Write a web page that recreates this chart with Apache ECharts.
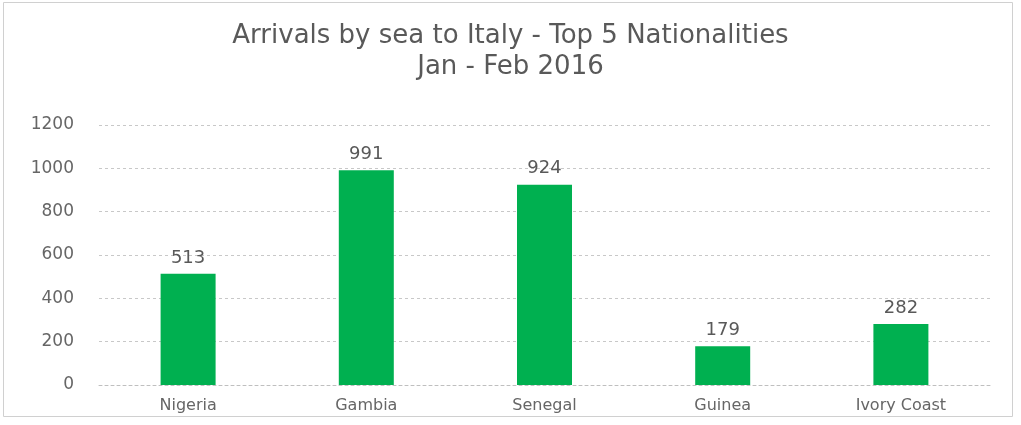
<!DOCTYPE html>
<html>
<head>
<meta charset="utf-8">
<script src="https://cdn.jsdelivr.net/npm/echarts@6/dist/echarts.min.js"></script>
<style>
  html, body { margin: 0; padding: 0; background: #fff; }
  #chart { width: 1021px; height: 425px; }
</style>
</head>
<body>
<div id="chart"></div>
<script>
const nationalities = ['Nigeria', 'Gambia', 'Senegal', 'Guinea', 'Ivory Coast']
const arrivals = [513, 991, 924, 179, 282]
const titleLines = ['Arrivals by sea to Italy - Top 5 Nationalities', 'Jan - Feb 2016']

const FONT = 'DejaVu Sans'
const chart = echarts.init(document.getElementById('chart'))

const option = {
  backgroundColor: '#fff',
  animation: false,
  textStyle: { fontFamily: FONT },
  title: {
    text: titleLines.join('\n'),
    left: 'center',
    top: 16,
    textStyle: {
      color: '#595959',
      fontSize: 26,
      fontWeight: 'normal',
      lineHeight: 31,
      fontFamily: FONT,
    },
  },
  graphic: [
    {
      type: 'rect',
      shape: { x: 3.5, y: 2.5, width: 1009, height: 414 },
      style: { fill: 'none', stroke: '#d0d0d0', lineWidth: 1 },
      silent: true,
    },
  ],
  grid: {
    top: 125,
    bottom: 40,
    left: 99,
    right: 31,
  },
  xAxis: {
    type: 'category',
    data: nationalities,
    axisLine: { show: true, lineStyle: { color: '#bfbfbf', type: [3, 3] } },
    axisTick: { show: false },
    axisLabel: { color: '#666', fontSize: 16, margin: 13, fontFamily: FONT },
  },
  yAxis: {
    type: 'value',
    min: 0,
    max: 1200,
    interval: 200,
    axisLine: { show: false },
    axisTick: { show: false },
    axisLabel: { color: '#666', fontSize: 17, margin: 25, fontFamily: FONT, formatter: v => String(v) },
    splitLine: { lineStyle: { color: '#c8c8c8', type: [3, 3] } },
  },
  series: [
    {
      type: 'bar',
      data: arrivals,
      barWidth: 55,
      itemStyle: { color: '#00b050' },
      label: {
        show: true,
        position: 'top',
        color: '#595959',
        fontSize: 18,
        distance: 7,
        fontFamily: FONT,
      },
    },
  ],
}

chart.setOption(option)
</script>
</body>
</html>
